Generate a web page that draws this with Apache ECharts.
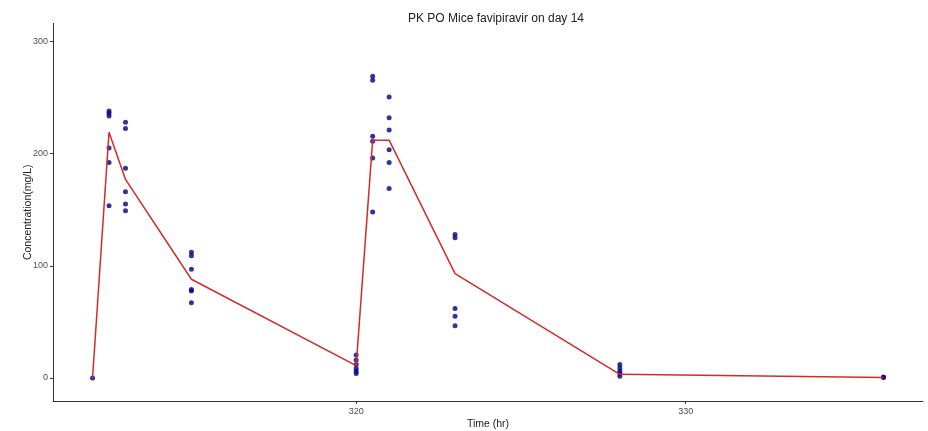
<!DOCTYPE html>
<html>
<head>
<meta charset="utf-8">
<script src="https://cdn.jsdelivr.net/npm/echarts@6/dist/echarts.min.js"></script>
<style>
  html, body { margin: 0; padding: 0; background: #fff; }
  #chart { width: 928px; height: 431px; }
</style>
</head>
<body>
<div id="chart"></div>
<script>
// Model-predicted concentration profile (hr, mg/L)
const fitTime = [312, 312.5, 313, 315, 320, 320.5, 321, 323, 328, 336];
const fitConc = [0, 219, 177, 88, 11, 212, 212, 93, 3.3, 0.4];

// Observed concentrations per sampling time (mg/L)
const sampleTime = [312, 312.5, 313, 315, 320, 320.5, 321, 323, 328, 336];
const sampleConc = [
  [0],
  [238, 236, 233.5, 205, 192, 153.5],
  [228, 222.5, 187, 166, 155, 149],
  [112, 109, 97, 79, 77.5, 67],
  [20.5, 16, 12, 8.5, 6, 4],
  [269, 265.5, 215.5, 211, 196, 148],
  [250.5, 232, 221, 203.5, 192, 169],
  [128, 125, 62, 55, 46.5],
  [12, 9, 6, 4, 1.5],
  [1, 0.5]
];

const xTicks = [320, 330];
const yTicks = [0, 100, 200, 300];

const fitPoints = fitTime.map((t, i) => [t, fitConc[i]]);
const obsPoints = [];
sampleTime.forEach((t, i) => sampleConc[i].forEach(c => obsPoints.push([t, c])));

const axisText = { color: '#4d4d4d', fontSize: 9, fontFamily: 'Liberation Sans, Arial, sans-serif' };
const nameText = { color: '#222', fontSize: 10.5, fontFamily: 'Liberation Sans, Arial, sans-serif' };

const chart = echarts.init(document.getElementById('chart'), null, { renderer: 'canvas' });
chart.setOption({
  animation: false,
  backgroundColor: '#ffffff',
  title: {
    text: 'PK PO Mice favipiravir on day 14',
    left: 491, top: 8, textAlign: 'center',
    textStyle: { color: '#222', fontSize: 12, fontWeight: 'normal', fontFamily: 'Liberation Sans, Arial, sans-serif' }
  },
  grid: { left: 53, right: 5, top: 23.5, bottom: 30, outerBoundsMode: 'none', containLabel: false },
  xAxis: {
    type: 'value', min: 310.8, max: 337.2,
    name: 'Time (hr)', nameLocation: 'middle', nameGap: 18, nameMoveOverlap: false, nameTextStyle: nameText,
    axisLine: { show: true, onZero: false, lineStyle: { color: '#333', width: 1 } },
    axisTick: { show: true, length: 3, customValues: xTicks, lineStyle: { color: '#333' } },
    axisLabel: { customValues: xTicks, margin: 6, ...axisText },
    splitLine: { show: false }
  },
  yAxis: {
    type: 'value', min: -20.5, max: 316,
    name: 'Concentration(mg/L)', nameLocation: 'middle', nameGap: 19, nameMoveOverlap: false, nameTextStyle: nameText,
    axisLine: { show: true, onZero: false, lineStyle: { color: '#333', width: 1 } },
    axisTick: { show: true, length: 3, customValues: yTicks, lineStyle: { color: '#333' } },
    axisLabel: { customValues: yTicks, margin: 5, ...axisText },
    splitLine: { show: false }
  },
  series: [
    {
      type: 'scatter', data: obsPoints, symbol: 'circle', symbolSize: 5,
      itemStyle: { color: '#000080' }, z: 2
    },
    {
      type: 'line', data: fitPoints, showSymbol: false,
      lineStyle: { color: '#d32b2b', width: 1.5 }, z: 3
    }
  ]
});
</script>
</body>
</html>
